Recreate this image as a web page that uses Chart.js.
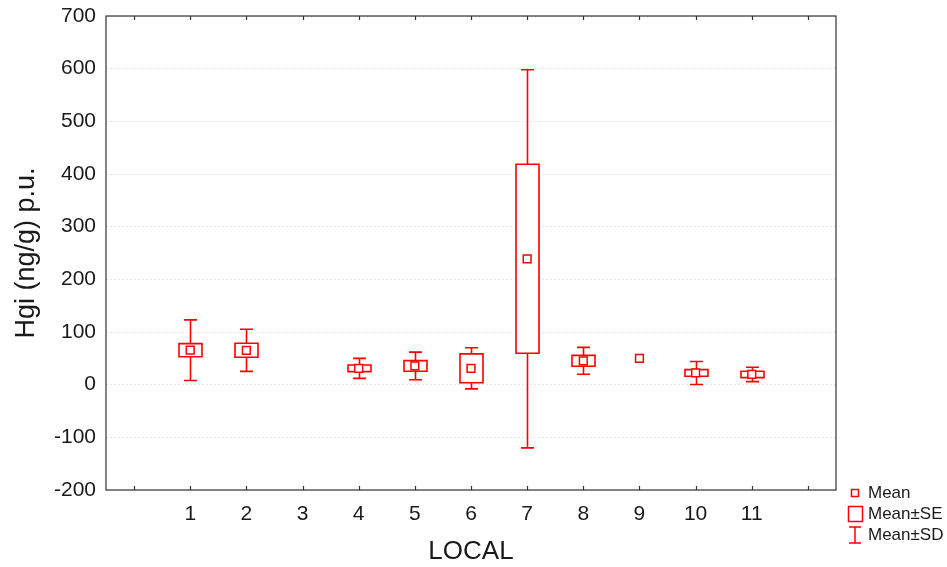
<!DOCTYPE html>
<html>
<head>
<meta charset="utf-8">
<script src="https://cdn.jsdelivr.net/npm/chart.js@4/dist/chart.umd.min.js"></script>
<style>
  html, body { margin: 0; padding: 0; background: #ffffff; }
  #wrap { width: 947px; height: 567px; }
</style>
</head>
<body>
<div id="wrap"><canvas id="c" width="947" height="567"></canvas></div>
<script>
// Sampling sites and Hg statistics per site
const categories = ['1', '2', '3', '4', '5', '6', '7', '8', '9', '10', '11'];
const means   = [65.5, 65.3, null, 31.0, 35.5, 31.0, 239.0, 45.3, 50.0, 22.2, 19.4];
const stdErrs = [12.5, 13.3, null, 6.3, 10.1, 27.5, 179.4, 10.4, null, 6.3, 6.1];
const stdDevs = [57.5, 40.0, null, 19.0, 26.3, 39.0, 359.0, 25.6, null, 21.9, 13.6];
const yTicks  = [-200, -100, 0, 100, 200, 300, 400, 500, 600, 700];
const legendLabels = ['Mean', 'Mean±SE', 'Mean±SD'];

const RED = '#ff0000';
const INK = '#1a1a1a';
const SANS = "'Liberation Sans', Arial, sans-serif";

const meanPoints = [];
means.forEach((m, i) => { if (m !== null) meanPoints.push({ x: i + 1, y: m }); });

// Draws the ±SE boxes, ±SD whiskers, frame, inner ticks and the legend
const boxWhiskerPlugin = {
  id: 'boxWhisker',
  beforeDatasetsDraw(chart) {
    const { ctx, scales: { x, y } } = chart;
    const boxHalf = 11.5, capHalf = 6.5;
    ctx.save();
    ctx.strokeStyle = RED;
    ctx.lineWidth = 1.6;
    ctx.fillStyle = '#ffffff';
    categories.forEach((c, i) => {
      const m = means[i];
      if (m === null) return;
      const px = Math.round(x.getPixelForValue(i + 1)) + 0.5;
      const se = stdErrs[i], sd = stdDevs[i];
      const seTop = y.getPixelForValue(se !== null ? m + se : m);
      const seBot = y.getPixelForValue(se !== null ? m - se : m);
      if (sd !== null) {
        const sdTop = y.getPixelForValue(m + sd);
        const sdBot = y.getPixelForValue(m - sd);
        ctx.beginPath();
        ctx.moveTo(px, sdTop); ctx.lineTo(px, seTop);
        ctx.moveTo(px, seBot); ctx.lineTo(px, sdBot);
        ctx.moveTo(px - capHalf, sdTop); ctx.lineTo(px + capHalf, sdTop);
        ctx.moveTo(px - capHalf, sdBot); ctx.lineTo(px + capHalf, sdBot);
        ctx.stroke();
      }
      if (se !== null) {
        ctx.beginPath();
        ctx.rect(px - boxHalf, seTop, boxHalf * 2, seBot - seTop);
        ctx.fill();
        ctx.stroke();
      }
    });
    ctx.restore();
  },
  afterDraw(chart) {
    const { ctx, chartArea: a, scales: { x } } = chart;
    ctx.save();
    // frame
    ctx.strokeStyle = '#333333';
    ctx.lineWidth = 1.2;
    ctx.strokeRect(a.left, a.top, a.right - a.left, a.bottom - a.top);
    // inward ticks on top and bottom edges
    ctx.beginPath();
    for (let v = 0; v <= categories.length + 1; v++) {
      const px = Math.round(x.getPixelForValue(v)) + 0.5;
      ctx.moveTo(px, a.bottom); ctx.lineTo(px, a.bottom - 4);
      ctx.moveTo(px, a.top); ctx.lineTo(px, a.top + 4);
    }
    ctx.stroke();

    // legend
    const lx = 855, rows = [493, 514, 535];
    ctx.strokeStyle = RED;
    ctx.lineWidth = 1.5;
    ctx.strokeRect(851.5, rows[0] - 3.5, 7, 7);
    ctx.strokeRect(848.5, rows[1] - 7.5, 14, 15);
    ctx.beginPath();
    ctx.moveTo(lx, rows[2] - 8); ctx.lineTo(lx, rows[2] + 8);
    ctx.moveTo(lx - 6, rows[2] - 8); ctx.lineTo(lx + 6, rows[2] - 8);
    ctx.moveTo(lx - 6, rows[2] + 8); ctx.lineTo(lx + 6, rows[2] + 8);
    ctx.stroke();
    ctx.fillStyle = INK;
    ctx.font = '17px ' + SANS;
    ctx.textBaseline = 'middle';
    ctx.textAlign = 'left';
    legendLabels.forEach((t, i) => ctx.fillText(t, 868, rows[i]));
    ctx.restore();
  }
};

new Chart(document.getElementById('c'), {
  type: 'scatter',
  data: {
    datasets: [{
      label: legendLabels[0],
      data: meanPoints,
      pointStyle: 'rect',
      pointRadius: 5.5,
      pointHoverRadius: 5.5,
      borderColor: RED,
      backgroundColor: '#ffffff',
      pointBorderWidth: 1.5,
      showLine: false
    }]
  },
  plugins: [boxWhiskerPlugin],
  options: {
    responsive: false,
    animation: false,
    events: [],
    layout: { padding: { top: 16, right: 111, left: 0, bottom: 0 } },
    plugins: { legend: { display: false }, tooltip: { enabled: false } },
    scales: {
      x: {
        type: 'linear',
        min: -0.5,
        max: categories.length + 1.5,
        afterBuildTicks(scale) {
          const t = [];
          for (let v = 0; v <= categories.length + 1; v++) t.push({ value: v });
          scale.ticks = t;
        },
        afterFit(scale) {
          scale.height = 77;
          scale.paddingLeft = 0;
          scale.paddingRight = 0;
        },
        grid: { display: false, drawTicks: false },
        border: { display: false },
        ticks: {
          autoSkip: false,
          maxRotation: 0,
          padding: 12,
          color: INK,
          font: { family: SANS, size: 21 },
          callback: (v) => categories[v - 1] !== undefined ? categories[v - 1] : ''
        },
        title: {
          display: true,
          text: 'LOCAL',
          color: INK,
          font: { family: SANS, size: 26 },
          padding: { top: 4, bottom: 0 }
        }
      },
      y: {
        min: yTicks[0],
        max: yTicks[yTicks.length - 1],
        afterBuildTicks(scale) { scale.ticks = yTicks.map(v => ({ value: v })); },
        afterFit(scale) {
          scale.width = 106;
          scale.paddingTop = 0;
          scale.paddingBottom = 0;
        },
        grid: {
          color: '#e6e6e6',
          lineWidth: 1,
          drawTicks: false
        },
        border: { display: false, dash: [2, 2] },
        ticks: {
          padding: 10,
          color: INK,
          font: { family: SANS, size: 21 }
        },
        title: {
          display: true,
          text: 'Hgi (ng/g) p.u.',
          color: INK,
          font: { family: SANS, size: 27 },
          padding: { top: 10, bottom: 0 }
        }
      }
    }
  }
});
</script>
</body>
</html>
